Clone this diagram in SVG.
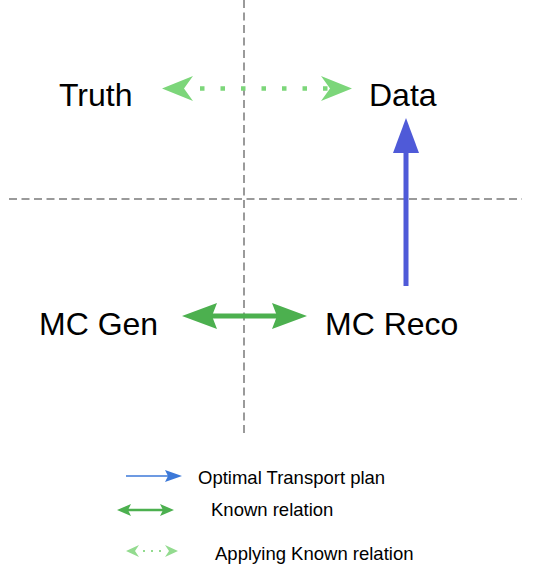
<svg xmlns="http://www.w3.org/2000/svg" width="533" height="571" viewBox="0 0 533 571">
<style>
.lbl{font-family:"Liberation Sans",Arial,sans-serif;font-size:32px;fill:#000}
.leg{font-family:"Liberation Sans",Arial,sans-serif;font-size:18.5px;fill:#000}
.axis{stroke:#7a7a7a;stroke-width:1.5;stroke-dasharray:8,4.5;fill:none}
</style>
<rect width="533" height="571" fill="#fff"/>
<g id="axes">
<line class="axis" x1="244" y1="0" x2="244" y2="437"/>
<line class="axis" x1="9" y1="199" x2="522" y2="199"/>
</g>
<g id="connectors">
<g id="truth-data">
<line x1="186" y1="88.5" x2="330" y2="88.5" stroke="#7cd67a" stroke-width="4.5" stroke-dasharray="4.5,16" stroke-dashoffset="-14"/>
<polygon points="162,88.5 193,76 184,88.5 193,101" fill="#7cd67a"/>
<polygon points="352,88.5 321,76 330,88.5 321,101" fill="#7cd67a"/>
</g>
<g id="reco-data">
<line x1="406" y1="286" x2="406" y2="148" stroke="#4f5ad8" stroke-width="5"/>
<polygon points="406,118 419,153 393,153" fill="#4f5ad8"/>
</g>
<g id="gen-reco">
<line x1="210" y1="316" x2="280" y2="316" stroke="#4cb04f" stroke-width="5"/>
<polygon points="182,316 217,303 212,316 217,329" fill="#4cb04f"/>
<polygon points="307,316 272,303 277,316 272,329" fill="#4cb04f"/>
</g>
</g>
<g id="truth"><text class="lbl" x="59" y="106">Truth</text></g>
<g id="data"><text class="lbl" x="369" y="106">Data</text></g>
<g id="mcgen"><text class="lbl" x="39" y="335">MC Gen</text></g>
<g id="mcreco"><text class="lbl" x="325" y="335">MC Reco</text></g>
<g id="legend">
<line x1="126" y1="476" x2="168" y2="476" stroke="#3c78d8" stroke-width="1.5"/>
<polygon points="182,476 165,470 168,476 165,482" fill="#3c78d8"/>
<text class="leg" x="198" y="484">Optimal Transport plan</text>
<line x1="126" y1="510" x2="165" y2="510" stroke="#4cb04f" stroke-width="2.5"/>
<polygon points="117,510 131,504 128,510 131,516" fill="#4cb04f"/>
<polygon points="174,510 160,504 163,510 160,516" fill="#4cb04f"/>
<text class="leg" x="211" y="516">Known relation</text>
<line x1="140" y1="551" x2="166" y2="551" stroke="#93db8f" stroke-width="2" stroke-dasharray="2,6" stroke-dashoffset="-3"/>
<polygon points="126,551 139,545 135,551 139,557" fill="#93db8f"/>
<polygon points="178,551 165,545 169,551 165,557" fill="#93db8f"/>
<text class="leg" x="215" y="560">Applying Known relation</text>
</g>
</svg>
